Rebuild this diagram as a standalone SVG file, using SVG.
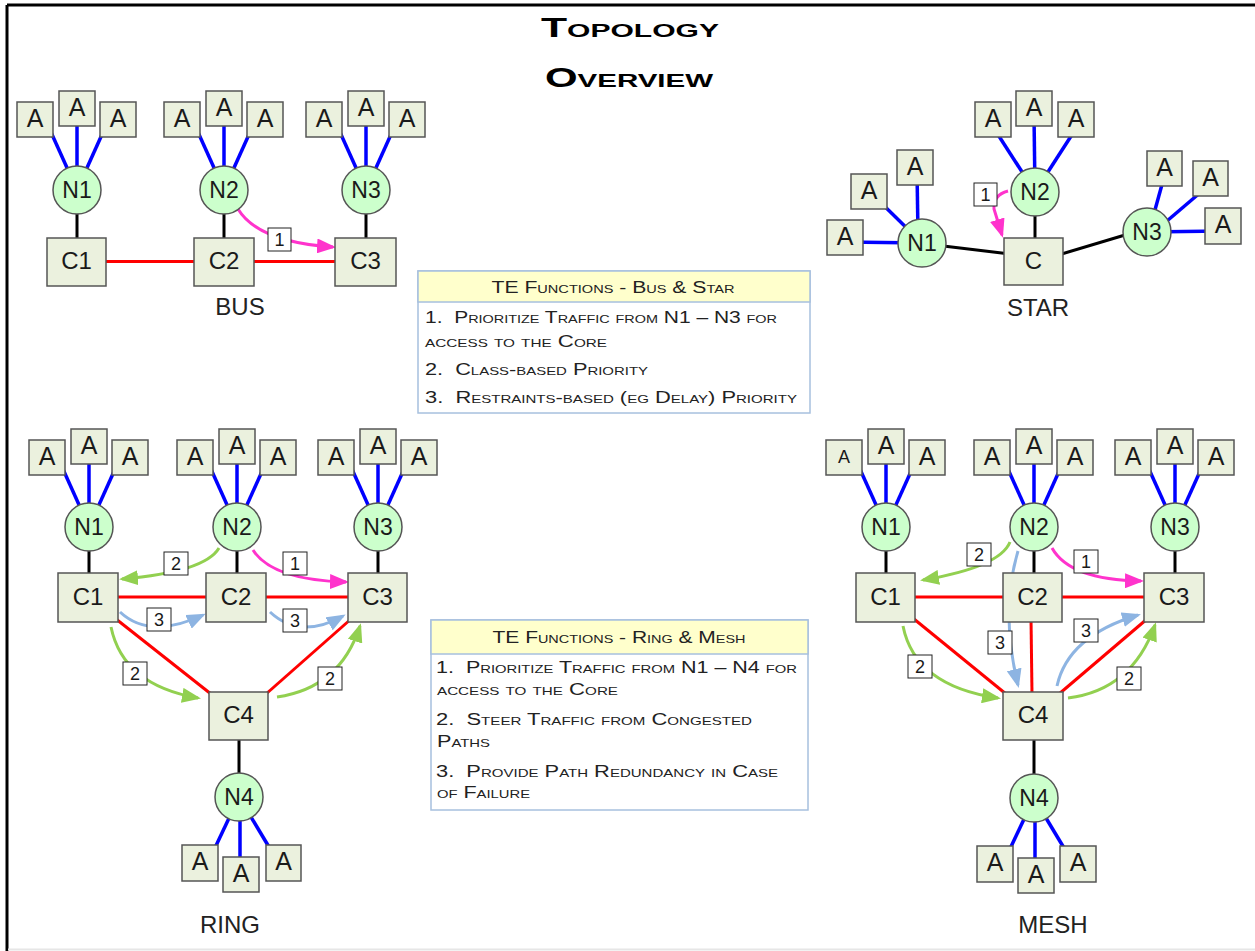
<svg xmlns="http://www.w3.org/2000/svg" width="1255" height="951" viewBox="0 0 1255 951">
<defs>
<style>
.a{fill:#EBF1DE;stroke:#555;stroke-width:1.5}
.n{fill:#CCFFCC;stroke:#555;stroke-width:1.5}
.t{font-family:"Liberation Sans",Arial,sans-serif;fill:#1a1a1a;text-anchor:middle}
.at{font-size:25px}
.as{font-size:18px}
.nt{font-size:23px}
.ct{font-size:24px}
.cap{font-size:24px;fill:#222}
.bl{stroke:#0000FF;stroke-width:3.5}
.rd{stroke:#FF0000;stroke-width:3}
.bk{stroke:#000;stroke-width:3}
.pk{stroke:#FF33CC;stroke-width:3;fill:none;marker-end:url(#mp)}
.gr{stroke:#92D050;stroke-width:3;fill:none;marker-end:url(#mg)}
.lb{stroke:#8DB4E2;stroke-width:3;fill:none;marker-end:url(#mb)}
.lbx{fill:#fff;stroke:#222;stroke-width:1}
.lt{font-size:18px}
.title{font-family:"Liberation Sans",Arial,sans-serif;font-weight:bold;font-size:27px;font-variant:small-caps;text-anchor:middle;fill:#000}
.te{font-family:"Liberation Sans",Arial,sans-serif;font-size:16px;font-variant:small-caps;fill:#222}
.box{fill:#fff;stroke:#A7C0DE;stroke-width:1.5}
.hdr{fill:#FFFFCC;stroke:#A7C0DE;stroke-width:1.5}
</style>
<marker id="mp" markerUnits="userSpaceOnUse" viewBox="0 0 19 15" refX="16" refY="7.5" markerWidth="19" markerHeight="15" orient="auto"><path d="M0,0 L19,7.5 L0,15 z" fill="#FF33CC"/></marker>
<marker id="mg" markerUnits="userSpaceOnUse" viewBox="0 0 19 15" refX="16" refY="7.5" markerWidth="19" markerHeight="15" orient="auto"><path d="M0,0 L19,7.5 L0,15 z" fill="#92D050"/></marker>
<marker id="mb" markerUnits="userSpaceOnUse" viewBox="0 0 19 15" refX="16" refY="7.5" markerWidth="19" markerHeight="15" orient="auto"><path d="M0,0 L19,7.5 L0,15 z" fill="#8DB4E2"/></marker>
</defs>
<rect x="0" y="0" width="1255" height="951" fill="#fff"/>
<g id="frame">
<line x1="7" y1="5" x2="1255" y2="5" stroke="#000" stroke-width="3"/>
<line x1="7" y1="5" x2="7" y2="951" stroke="#000" stroke-width="3"/>
<line x1="8" y1="949.5" x2="1255" y2="949.5" stroke="#e6e6e6" stroke-width="2"/>
</g>
<g id="title">
<text class="title" x="630" y="37" textLength="178" lengthAdjust="spacingAndGlyphs">Topology</text>
<text class="title" x="629" y="87" textLength="168" lengthAdjust="spacingAndGlyphs">Overview</text>
</g>

<g id="connectors">
<!-- BUS -->
<g class="bl">
<line x1="50" y1="130" x2="77" y2="190"/><line x1="77" y1="115" x2="77" y2="190"/><line x1="104" y1="130" x2="77" y2="190"/>
<line x1="197" y1="130" x2="224" y2="190"/><line x1="224" y1="115" x2="224" y2="190"/><line x1="251" y1="130" x2="224" y2="190"/>
<line x1="339" y1="130" x2="366" y2="190"/><line x1="366" y1="115" x2="366" y2="190"/><line x1="393" y1="130" x2="366" y2="190"/>
</g>
<line class="bk" x1="77" y1="190" x2="77" y2="245"/>
<line class="bk" x1="224" y1="190" x2="224" y2="245"/>
<line class="bk" x1="366" y1="190" x2="366" y2="245"/>
<line class="rd" x1="80" y1="261.5" x2="360" y2="261.5"/>
<path class="pk" d="M238,209 Q258,242 333,247"/>
<!-- STAR -->
<g class="bl">
<line x1="995" y1="130" x2="1035" y2="192"/><line x1="1034" y1="115" x2="1035" y2="192"/><line x1="1075" y1="130" x2="1035" y2="192"/>
<line x1="845" y1="242" x2="922" y2="243"/><line x1="869" y1="191" x2="922" y2="243"/><line x1="917" y1="170" x2="918" y2="235"/>
<line x1="1166" y1="170" x2="1150" y2="228"/><line x1="1208" y1="186" x2="1147" y2="238"/><line x1="1222" y1="231" x2="1147" y2="232"/>
</g>
<line class="bk" x1="1035" y1="200" x2="1035" y2="245"/>
<line class="bk" x1="935" y1="245" x2="1010" y2="254"/>
<line class="bk" x1="1055" y1="256" x2="1135" y2="232"/>
<path class="pk" d="M1008,191 Q993,195 994,209 L1002,235"/>
<!-- RING -->
<g class="bl">
<line x1="62" y1="467" x2="89" y2="527"/><line x1="89" y1="452" x2="89" y2="527"/><line x1="116" y1="467" x2="89" y2="527"/>
<line x1="210" y1="467" x2="237" y2="527"/><line x1="237" y1="452" x2="237" y2="527"/><line x1="264" y1="467" x2="237" y2="527"/>
<line x1="351" y1="467" x2="378" y2="527"/><line x1="378" y1="452" x2="378" y2="527"/><line x1="405" y1="467" x2="378" y2="527"/>
<line x1="239" y1="797" x2="213" y2="852"/><line x1="240" y1="797" x2="240" y2="865"/><line x1="239" y1="797" x2="272" y2="852"/>
</g>
<line class="bk" x1="89" y1="527" x2="89" y2="580"/>
<line class="bk" x1="237" y1="527" x2="237" y2="580"/>
<line class="bk" x1="378" y1="527" x2="378" y2="580"/>
<line class="bk" x1="239" y1="735" x2="239" y2="797"/>
<line class="rd" x1="90" y1="597" x2="375" y2="597"/>
<line class="rd" x1="116" y1="619" x2="211" y2="694"/>
<line class="rd" x1="351" y1="619" x2="266" y2="694"/>
<path class="gr" d="M219,548 Q205,572 122,579"/>
<path class="pk" d="M253,550 Q272,580 346,582"/>
<path class="lb" d="M120,612 Q150,640 203,615"/>
<path class="lb" d="M270,612 Q300,640 343,616"/>
<path class="gr" d="M111,627 Q123,685 198,698"/>
<path class="gr" d="M277,697 Q340,688 360,626"/>
<!-- MESH -->
<g class="bl">
<line x1="859" y1="467" x2="886" y2="527"/><line x1="886" y1="452" x2="886" y2="527"/><line x1="913" y1="467" x2="886" y2="527"/>
<line x1="1007" y1="467" x2="1034" y2="527"/><line x1="1034" y1="452" x2="1034" y2="527"/><line x1="1061" y1="467" x2="1034" y2="527"/>
<line x1="1148" y1="467" x2="1175" y2="527"/><line x1="1175" y1="452" x2="1175" y2="527"/><line x1="1202" y1="467" x2="1175" y2="527"/>
<line x1="1034" y1="798" x2="1008" y2="853"/><line x1="1035" y1="798" x2="1035" y2="866"/><line x1="1034" y1="798" x2="1067" y2="853"/>
</g>
<line class="bk" x1="886" y1="527" x2="886" y2="580"/>
<line class="bk" x1="1034" y1="527" x2="1034" y2="580"/>
<line class="bk" x1="1175" y1="527" x2="1175" y2="580"/>
<line class="bk" x1="1034" y1="735" x2="1034" y2="798"/>
<line class="rd" x1="888" y1="597" x2="1172" y2="597"/>
<line class="rd" x1="914" y1="619" x2="1006" y2="694"/>
<line class="rd" x1="1031" y1="618" x2="1032" y2="694"/>
<line class="rd" x1="1147" y1="619" x2="1059" y2="694"/>
<path class="gr" d="M1010,542 Q1000,567 923,580"/>
<path class="lb" d="M1018,551 Q1000,612 1018,685"/>
<path class="pk" d="M1052,548 Q1070,580 1141,581"/>
<path class="gr" d="M903,626 Q915,686 998,698"/>
<path class="lb" d="M1057,686 Q1068,636 1138,615"/>
<path class="gr" d="M1068,698 Q1132,690 1155,625"/>
<!-- labels -->
<g id="connector-labels">
<rect class="lbx" x="268" y="228" width="23" height="23"/><text class="t lt" x="279.5" y="246">1</text>
<rect class="lbx" x="974" y="183" width="23" height="23"/><text class="t lt" x="985.5" y="201">1</text>
<rect class="lbx" x="164" y="552" width="24" height="23"/><text class="t lt" x="176" y="570">2</text>
<rect class="lbx" x="283" y="552" width="24" height="23"/><text class="t lt" x="295" y="570">1</text>
<rect class="lbx" x="147" y="608" width="24" height="23"/><text class="t lt" x="159" y="626">3</text>
<rect class="lbx" x="283" y="609" width="24" height="23"/><text class="t lt" x="295" y="627">3</text>
<rect class="lbx" x="123" y="662" width="24" height="23"/><text class="t lt" x="135" y="680">2</text>
<rect class="lbx" x="318" y="667" width="24" height="23"/><text class="t lt" x="330" y="685">2</text>
<rect class="lbx" x="967" y="543" width="24" height="23"/><text class="t lt" x="979" y="561">2</text>
<rect class="lbx" x="988" y="631" width="24" height="23"/><text class="t lt" x="1000" y="649">3</text>
<rect class="lbx" x="1074" y="550" width="24" height="23"/><text class="t lt" x="1086" y="568">1</text>
<rect class="lbx" x="908" y="655" width="24" height="23"/><text class="t lt" x="920" y="673">2</text>
<rect class="lbx" x="1074" y="619" width="24" height="23"/><text class="t lt" x="1086" y="637">3</text>
<rect class="lbx" x="1117" y="667" width="24" height="23"/><text class="t lt" x="1129" y="685">2</text>
</g>
</g>

<!-- BUS nodes -->
<g id="bus-n1-a1"><rect class="a" x="17" y="102" width="36" height="35"/><text class="t at" x="35" y="127">A</text></g>
<g id="bus-n1-a2"><rect class="a" x="59" y="91" width="36" height="35"/><text class="t at" x="77" y="116">A</text></g>
<g id="bus-n1-a3"><rect class="a" x="100" y="102" width="36" height="35"/><text class="t at" x="118" y="127">A</text></g>
<g id="bus-n2-a1"><rect class="a" x="164" y="102" width="36" height="35"/><text class="t at" x="182" y="127">A</text></g>
<g id="bus-n2-a2"><rect class="a" x="206" y="91" width="36" height="35"/><text class="t at" x="224" y="116">A</text></g>
<g id="bus-n2-a3"><rect class="a" x="247" y="102" width="36" height="35"/><text class="t at" x="265" y="127">A</text></g>
<g id="bus-n3-a1"><rect class="a" x="306" y="102" width="36" height="35"/><text class="t at" x="324" y="127">A</text></g>
<g id="bus-n3-a2"><rect class="a" x="348" y="91" width="36" height="35"/><text class="t at" x="366" y="116">A</text></g>
<g id="bus-n3-a3"><rect class="a" x="389" y="102" width="36" height="35"/><text class="t at" x="407" y="127">A</text></g>
<g id="bus-n1"><circle class="n" cx="77" cy="190" r="24"/><text class="t nt" x="77" y="198">N1</text></g>
<g id="bus-n2"><circle class="n" cx="224" cy="190" r="24"/><text class="t nt" x="224" y="198">N2</text></g>
<g id="bus-n3"><circle class="n" cx="366" cy="190" r="24"/><text class="t nt" x="366" y="198">N3</text></g>
<g id="bus-c1"><rect class="a" x="47" y="238" width="59" height="48"/><text class="t ct" x="76.5" y="269">C1</text></g>
<g id="bus-c2"><rect class="a" x="194" y="238" width="60" height="48"/><text class="t ct" x="224" y="269">C2</text></g>
<g id="bus-c3"><rect class="a" x="335" y="238" width="61" height="48"/><text class="t ct" x="365.5" y="269">C3</text></g>
<text id="bus-label" class="t cap" x="240" y="315">BUS</text>

<!-- STAR nodes -->
<g id="star-n2-a1"><rect class="a" x="975" y="102" width="36" height="35"/><text class="t at" x="993" y="127">A</text></g>
<g id="star-n2-a2"><rect class="a" x="1016" y="91" width="36" height="35"/><text class="t at" x="1034" y="116">A</text></g>
<g id="star-n2-a3"><rect class="a" x="1058" y="102" width="36" height="35"/><text class="t at" x="1076" y="127">A</text></g>
<g id="star-n1-a1"><rect class="a" x="827" y="220" width="36" height="35"/><text class="t at" x="845" y="245">A</text></g>
<g id="star-n1-a2"><rect class="a" x="851" y="174" width="36" height="35"/><text class="t at" x="869" y="199">A</text></g>
<g id="star-n1-a3"><rect class="a" x="897" y="150" width="36" height="35"/><text class="t at" x="915" y="175">A</text></g>
<g id="star-n3-a1"><rect class="a" x="1147" y="151" width="35" height="35"/><text class="t at" x="1164.5" y="176">A</text></g>
<g id="star-n3-a2"><rect class="a" x="1193" y="161" width="35" height="35"/><text class="t at" x="1210.5" y="186">A</text></g>
<g id="star-n3-a3"><rect class="a" x="1205" y="208" width="36" height="36"/><text class="t at" x="1223" y="233">A</text></g>
<g id="star-n1"><circle class="n" cx="922" cy="243" r="24"/><text class="t nt" x="922" y="251">N1</text></g>
<g id="star-n2"><circle class="n" cx="1035" cy="192" r="24"/><text class="t nt" x="1035" y="200">N2</text></g>
<g id="star-n3"><circle class="n" cx="1147" cy="232" r="24"/><text class="t nt" x="1147" y="240">N3</text></g>
<g id="star-c"><rect class="a" x="1004" y="238" width="59" height="47"/><text class="t ct" x="1033.5" y="269">C</text></g>
<text id="star-label" class="t cap" x="1038" y="316">STAR</text>

<!-- TE box 1 -->
<g id="te-bus-star">
<rect class="box" x="418" y="271" width="392" height="142"/>
<rect class="hdr" x="418" y="271" width="392" height="31"/>
<text class="te" x="613" y="293" text-anchor="middle" textLength="243" lengthAdjust="spacingAndGlyphs">TE Functions - Bus &amp; Star</text>
<text class="te" x="425" y="323" xml:space="preserve" textLength="352" lengthAdjust="spacingAndGlyphs">1.  Prioritize Traffic from N1 – N3 for</text>
<text class="te" x="425" y="347" textLength="182" lengthAdjust="spacingAndGlyphs">access to the Core</text>
<text class="te" x="425" y="375" xml:space="preserve" textLength="223" lengthAdjust="spacingAndGlyphs">2.  Class-based Priority</text>
<text class="te" x="425" y="403" xml:space="preserve" textLength="372" lengthAdjust="spacingAndGlyphs">3.  Restraints-based (eg Delay) Priority</text>
</g>

<!-- RING nodes -->
<g id="ring-n1-a1"><rect class="a" x="29" y="440" width="36" height="35"/><text class="t at" x="47" y="465">A</text></g>
<g id="ring-n1-a2"><rect class="a" x="71" y="429" width="36" height="35"/><text class="t at" x="89" y="454">A</text></g>
<g id="ring-n1-a3"><rect class="a" x="112" y="440" width="36" height="35"/><text class="t at" x="130" y="465">A</text></g>
<g id="ring-n2-a1"><rect class="a" x="177" y="440" width="36" height="35"/><text class="t at" x="195" y="465">A</text></g>
<g id="ring-n2-a2"><rect class="a" x="219" y="429" width="36" height="35"/><text class="t at" x="237" y="454">A</text></g>
<g id="ring-n2-a3"><rect class="a" x="260" y="440" width="36" height="35"/><text class="t at" x="278" y="465">A</text></g>
<g id="ring-n3-a1"><rect class="a" x="318" y="440" width="36" height="35"/><text class="t at" x="336" y="465">A</text></g>
<g id="ring-n3-a2"><rect class="a" x="360" y="429" width="36" height="35"/><text class="t at" x="378" y="454">A</text></g>
<g id="ring-n3-a3"><rect class="a" x="401" y="440" width="36" height="35"/><text class="t at" x="419" y="465">A</text></g>
<g id="ring-n1"><circle class="n" cx="89" cy="527" r="24"/><text class="t nt" x="89" y="535">N1</text></g>
<g id="ring-n2"><circle class="n" cx="237" cy="527" r="24"/><text class="t nt" x="237" y="535">N2</text></g>
<g id="ring-n3"><circle class="n" cx="378" cy="527" r="24"/><text class="t nt" x="378" y="535">N3</text></g>
<g id="ring-c1"><rect class="a" x="58" y="573" width="60" height="49"/><text class="t ct" x="88" y="605">C1</text></g>
<g id="ring-c2"><rect class="a" x="206" y="573" width="60" height="49"/><text class="t ct" x="236" y="605">C2</text></g>
<g id="ring-c3"><rect class="a" x="348" y="573" width="59" height="49"/><text class="t ct" x="377.5" y="605">C3</text></g>
<g id="ring-c4"><rect class="a" x="209" y="692" width="59" height="48"/><text class="t ct" x="238.5" y="723">C4</text></g>
<g id="ring-n4"><circle class="n" cx="239" cy="797" r="24"/><text class="t nt" x="239" y="805">N4</text></g>
<g id="ring-n4-a1"><rect class="a" x="182" y="845" width="36" height="36"/><text class="t at" x="200" y="870">A</text></g>
<g id="ring-n4-a2"><rect class="a" x="223" y="857" width="36" height="35"/><text class="t at" x="241" y="882">A</text></g>
<g id="ring-n4-a3"><rect class="a" x="266" y="845" width="35" height="36"/><text class="t at" x="283.5" y="870">A</text></g>
<text id="ring-label" class="t cap" x="230" y="933">RING</text>

<!-- TE box 2 -->
<g id="te-ring-mesh">
<rect class="box" x="431" y="620" width="377" height="190"/>
<rect class="hdr" x="431" y="620" width="377" height="34"/>
<text class="te" x="619" y="643" text-anchor="middle" textLength="253" lengthAdjust="spacingAndGlyphs">TE Functions - Ring &amp; Mesh</text>
<text class="te" x="436" y="673" xml:space="preserve" textLength="361" lengthAdjust="spacingAndGlyphs">1.  Prioritize Traffic from N1 – N4 for</text>
<text class="te" x="437" y="695" textLength="181" lengthAdjust="spacingAndGlyphs">access to the Core</text>
<text class="te" x="436" y="725" xml:space="preserve" textLength="316" lengthAdjust="spacingAndGlyphs">2.  Steer Traffic from Congested</text>
<text class="te" x="437" y="747" textLength="53" lengthAdjust="spacingAndGlyphs">Paths</text>
<text class="te" x="436" y="777" xml:space="preserve" textLength="342" lengthAdjust="spacingAndGlyphs">3.  Provide Path Redundancy in Case</text>
<text class="te" x="437" y="798" textLength="93" lengthAdjust="spacingAndGlyphs">of Failure</text>
</g>

<!-- MESH nodes -->
<g id="mesh-n1-a1"><rect class="a" x="826" y="440" width="36" height="35"/><text class="t as" x="844" y="463">A</text></g>
<g id="mesh-n1-a2"><rect class="a" x="868" y="429" width="36" height="35"/><text class="t at" x="886" y="454">A</text></g>
<g id="mesh-n1-a3"><rect class="a" x="909" y="440" width="36" height="35"/><text class="t at" x="927" y="465">A</text></g>
<g id="mesh-n2-a1"><rect class="a" x="974" y="440" width="36" height="35"/><text class="t at" x="992" y="465">A</text></g>
<g id="mesh-n2-a2"><rect class="a" x="1016" y="429" width="36" height="35"/><text class="t at" x="1034" y="454">A</text></g>
<g id="mesh-n2-a3"><rect class="a" x="1057" y="440" width="36" height="35"/><text class="t at" x="1075" y="465">A</text></g>
<g id="mesh-n3-a1"><rect class="a" x="1115" y="440" width="36" height="35"/><text class="t at" x="1133" y="465">A</text></g>
<g id="mesh-n3-a2"><rect class="a" x="1157" y="429" width="36" height="35"/><text class="t at" x="1175" y="454">A</text></g>
<g id="mesh-n3-a3"><rect class="a" x="1198" y="440" width="36" height="35"/><text class="t at" x="1216" y="465">A</text></g>
<g id="mesh-n1"><circle class="n" cx="886" cy="527" r="24"/><text class="t nt" x="886" y="535">N1</text></g>
<g id="mesh-n2"><circle class="n" cx="1034" cy="527" r="24"/><text class="t nt" x="1034" y="535">N2</text></g>
<g id="mesh-n3"><circle class="n" cx="1175" cy="527" r="24"/><text class="t nt" x="1175" y="535">N3</text></g>
<g id="mesh-c1"><rect class="a" x="856" y="573" width="59" height="49"/><text class="t ct" x="885.5" y="605">C1</text></g>
<g id="mesh-c2"><rect class="a" x="1003" y="573" width="59" height="49"/><text class="t ct" x="1032.5" y="605">C2</text></g>
<g id="mesh-c3"><rect class="a" x="1144" y="573" width="60" height="49"/><text class="t ct" x="1174" y="605">C3</text></g>
<g id="mesh-c4"><rect class="a" x="1003" y="692" width="60" height="48"/><text class="t ct" x="1033" y="723">C4</text></g>
<g id="mesh-n4"><circle class="n" cx="1034" cy="798" r="24"/><text class="t nt" x="1034" y="806">N4</text></g>
<g id="mesh-n4-a1"><rect class="a" x="977" y="846" width="36" height="36"/><text class="t at" x="995" y="871">A</text></g>
<g id="mesh-n4-a2"><rect class="a" x="1018" y="858" width="36" height="35"/><text class="t at" x="1036" y="883">A</text></g>
<g id="mesh-n4-a3"><rect class="a" x="1060" y="846" width="36" height="36"/><text class="t at" x="1078" y="871">A</text></g>
<text id="mesh-label" class="t cap" x="1053" y="933">MESH</text>
</svg>
